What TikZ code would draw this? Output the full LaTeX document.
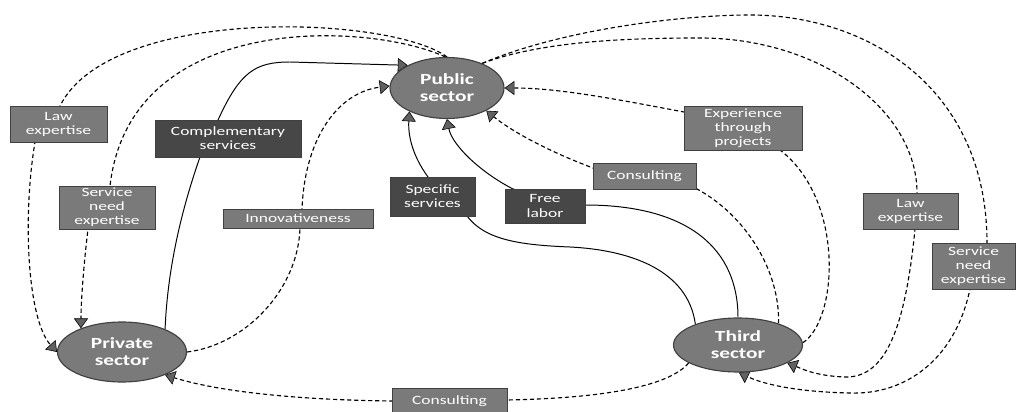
\documentclass[tikz,border=0pt]{standalone}
\usepackage{fontspec}
\setmainfont{Carlito}[FakeStretch=1.38]
\usetikzlibrary{arrows.meta,shapes.geometric,backgrounds}
\tikzset{
  sz/.style 2 args={minimum width=#1*0.025cm, minimum height=#2*0.025cm},
  box/.style={rectangle, draw=black!75, line width=0.5pt, text=white, align=center,
              inner sep=0pt, font=\fontsize{9}{10}\selectfont},
  lbox/.style={box, fill=black!52},
  dbox/.style={box, fill=black!72},
  sector/.style={ellipse, draw=black!75, line width=0.8pt, fill=black!52, text=white,
                 align=center, inner sep=0pt, font=\fontsize{11}{12}\selectfont\bfseries},
  tipped/.style={-{Triangle[length=7pt,width=10pt,fill=black!62,line width=0.4pt]}},
  dl/.style={tipped, line width=0.8pt, dash pattern=on 3pt off 2pt},
  sl/.style={tipped, line width=0.7pt},
}
\begin{document}
\begin{tikzpicture}[x=0.025cm,y=-0.025cm]
\useasboundingbox (0,0) rectangle (1019,412);

% sectors
\node[sector, sz={114}{61}] (pub)   at (447,88)  {Public\\sector};
\node[sector, sz={129}{60}] (priv)  at (122,352) {Private\\sector};
\node[sector, sz={129}{54}] (third) at (738,345) {Third\\sector};

% labels
\node[lbox, sz={97}{36}]  (lawL)  at (58.5,124)  {Law\\expertise};
\node[dbox, sz={146}{37}] (comp)  at (228,138.5) {Complementary\\services};
\node[lbox, sz={96}{43}]  (svcL)  at (107,207.5) {Service\\need\\expertise};
\node[lbox, sz={150}{19}] (innov) at (298,218.5) {Innovativeness};
\node[dbox, sz={85}{39}]  (spec)  at (432.5,196.5) {Specific\\services};
\node[dbox, sz={80}{34}]  (free)  at (545,206)   {Free\\labor};
\node[lbox, sz={103}{26}] (consT) at (644.5,176) {Consulting};
\node[lbox, sz={118}{44}] (exp)   at (743,128)   {Experience\\through\\projects};
\node[lbox, sz={95}{36}]  (lawR)  at (910.5,211) {Law\\expertise};
\node[lbox, sz={83}{46}]  (svcR)  at (973.5,266) {Service\\need\\expertise};
\node[lbox, sz={115}{26}] (consB) at (449.5,401) {Consulting};

\begin{pgfonlayer}{background}
% public -> private, law expertise
\draw[dl] (pub.north) .. controls (390,15) and (110,5) .. (60,106) -- (35,142)
          .. controls (22,220) and (28,320) .. (priv.west);
% public -> private, service need expertise
\draw[dl] (pub.93) .. controls (370,22) and (130,10) .. (110,186) -- (88,229)
          .. controls (84,262) and (81,300) .. (priv.150);
% private -> public, complementary services
\draw[sl] (priv.28) .. controls (168,260) and (185,200) .. (200,157) -- (218,120)
          .. controls (240,72) and (255,62) .. (290,62) -- (pub.150);
% private -> public, innovativeness
\draw[dl] (priv.east) .. controls (245,345) and (298,290) .. (300,228) -- (302,209)
          .. controls (305,135) and (340,92) .. (pub.178);
% third -> public, specific services
\draw[sl] (third.154) .. controls (688,270) and (630,250) .. (570,247)
          .. controls (520,245) and (485,240) .. (467,216) -- (428,177)
          .. controls (412,155) and (408,135) .. (pub.212);
% third -> public, free labor
\draw[sl] (third.north) .. controls (738,250) and (690,205) .. (585,205) -- (513,189)
          .. controls (480,172) and (452,145) .. (pub.south);
% third -> public, consulting
\draw[dl] (third.28) .. controls (780,270) and (745,215) .. (697,189) -- (593,168)
          .. controls (545,150) and (510,130) .. (pub.-30);
% third -> public, experience through projects
\draw[dl] (third.2) .. controls (838,320) and (845,200) .. (780,150) -- (684,112)
          .. controls (620,100) and (560,88) .. (pub.east);
% public -> third, law expertise
\draw[dl] (pub.35) .. controls (540,42) and (620,38) .. (700,38)
          .. controls (820,38) and (917,110) .. (917,193) -- (915,229)
          .. controls (905,330) and (885,378) .. (845,377)
          .. controls (815,376) and (800,368) .. (third.-20);
% public -> third, service need expertise
\draw[dl] (pub.35) .. controls (560,30) and (680,15) .. (750,15)
          .. controls (870,15) and (987,90) .. (987,243) -- (970,289)
          .. controls (955,360) and (905,395) .. (850,393)
          .. controls (800,392) and (765,385) .. (third.-88);
% third -> private, consulting
\draw[dl] (third.200) .. controls (670,385) and (610,398) .. (507,400) -- (392,401)
          .. controls (300,400) and (220,392) .. (priv.-28);
\end{pgfonlayer}
\end{tikzpicture}
\end{document}
